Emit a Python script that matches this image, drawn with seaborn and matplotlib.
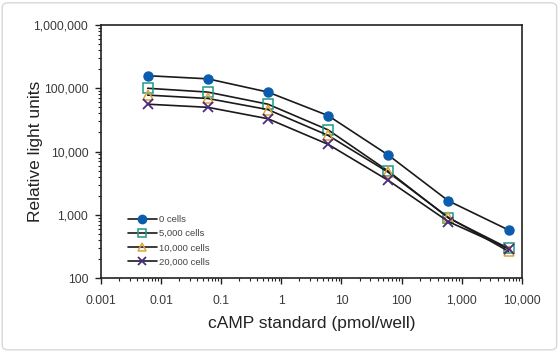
import numpy as np
import pandas as pd
import matplotlib
matplotlib.use("Agg")
import matplotlib.pyplot as plt
import matplotlib.ticker as mticker
from matplotlib.patches import FancyBboxPatch
from matplotlib.lines import Line2D
import seaborn as sns

# values
camp = [0.006, 0.06, 0.6, 6, 60, 600, 6000]
cells_0 = [158000, 141000, 87000, 37000, 8800, 1660, 575]
cells_5000 = [100000, 87000, 56000, 22000, 4900, 890, 295]
cells_10000 = [78000, 69000, 46000, 18000, 4700, 910, 265]
cells_20000 = [56000, 50000, 33000, 13000, 3500, 780, 290]
series_names = ["0 cells", "5,000 cells", "10,000 cells", "20,000 cells"]
x_ticks = [0.001, 0.01, 0.1, 1, 10, 100, 1000, 10000]
y_ticks = [100, 1000, 10000, 100000, 1000000]

df = pd.DataFrame({
    "camp": camp * 4,
    "rlu": cells_0 + cells_5000 + cells_10000 + cells_20000,
    "series": np.repeat(series_names, len(camp)),
})

styles = {
    "0 cells": dict(marker="o", mfc="#0b5cad", mec="#0b5cad", ms=6.5, mew=1.0),
    "5,000 cells": dict(marker="s", mfc="none", mec="#1f9a82", ms=6.5, mew=1.1),
    "10,000 cells": dict(marker="^", mfc="none", mec="#e0a43a", ms=6.5, mew=1.1),
    "20,000 cells": dict(marker="x", mfc="none", mec="#4a2c7a", ms=6.5, mew=1.3),
}

sns.set_style("white")
plt.rcParams["font.family"] = ["Liberation Sans", "DejaVu Sans"]

fig = plt.figure(figsize=(5.6, 3.52), dpi=100)
ax = fig.add_axes([0.180, 0.210, 0.752, 0.719])

# light rounded frame around the whole picture
fig.patches.append(FancyBboxPatch((0.004, 0.006), 0.99, 0.986,
                                  boxstyle="round,pad=0,rounding_size=0.012",
                                  transform=fig.transFigure, fill=False,
                                  edgecolor="#d8d8d8", linewidth=1.0))

handles = []
for name in series_names:
    sub = df[df["series"] == name]
    st = styles[name]
    sns.lineplot(data=sub, x="camp", y="rlu", ax=ax, color="#1a1a1a",
                 linewidth=1.2, marker=st["marker"], markersize=st["ms"],
                 markerfacecolor=st["mfc"], markeredgecolor=st["mec"],
                 markeredgewidth=st["mew"], legend=False)
    handles.append(Line2D([], [], color="#1a1a1a", linewidth=1.2,
                          marker=st["marker"], markersize=st["ms"] - 0.5,
                          markerfacecolor=st["mfc"], markeredgecolor=st["mec"],
                          markeredgewidth=st["mew"]))

ax.set_xscale("log")
ax.set_yscale("log")
ax.set_xlim(0.001, 10000)
ax.set_ylim(100, 1000000)
ax.set_xticks(x_ticks)
ax.set_yticks(y_ticks)

def fmt(v, pos):
    if v >= 1:
        return f"{v:,.0f}"
    return f"{v:g}"

ax.xaxis.set_major_formatter(mticker.FuncFormatter(fmt))
ax.yaxis.set_major_formatter(mticker.FuncFormatter(fmt))
ax.xaxis.set_minor_locator(mticker.LogLocator(base=10, subs=np.arange(2, 10)))
ax.yaxis.set_minor_locator(mticker.LogLocator(base=10, subs=np.arange(2, 10)))
ax.xaxis.set_minor_formatter(mticker.NullFormatter())
ax.yaxis.set_minor_formatter(mticker.NullFormatter())

ax.tick_params(which="major", direction="out", length=4, width=1,
               color="#222222", labelsize=8.7, labelcolor="#3a3a3a", pad=3,
               bottom=True, left=True)
ax.tick_params(which="minor", direction="out", length=2.5, width=0.8,
               color="#222222", bottom=True, left=True)
ax.tick_params(axis="x", pad=8)
ax.tick_params(axis="y", pad=5)

for sp in ax.spines.values():
    sp.set_color("#222222")
    sp.set_linewidth(1.2)

ax.set_xlabel("cAMP standard (pmol/well)", fontsize=12.5, color="#222222",
              labelpad=7)
ax.set_ylabel("Relative light units", fontsize=12.5, color="#222222")
ax.yaxis.set_label_coords(-0.138, 0.5)

ax.legend(handles, series_names, loc="lower left",
          bbox_to_anchor=(0.065, 0.045), frameon=False, fontsize=6.8,
          handlelength=3.0, handletextpad=0.25, labelspacing=0.55,
          borderpad=0, borderaxespad=0, labelcolor="#444444")

fig.savefig("out.png", dpi=100)
